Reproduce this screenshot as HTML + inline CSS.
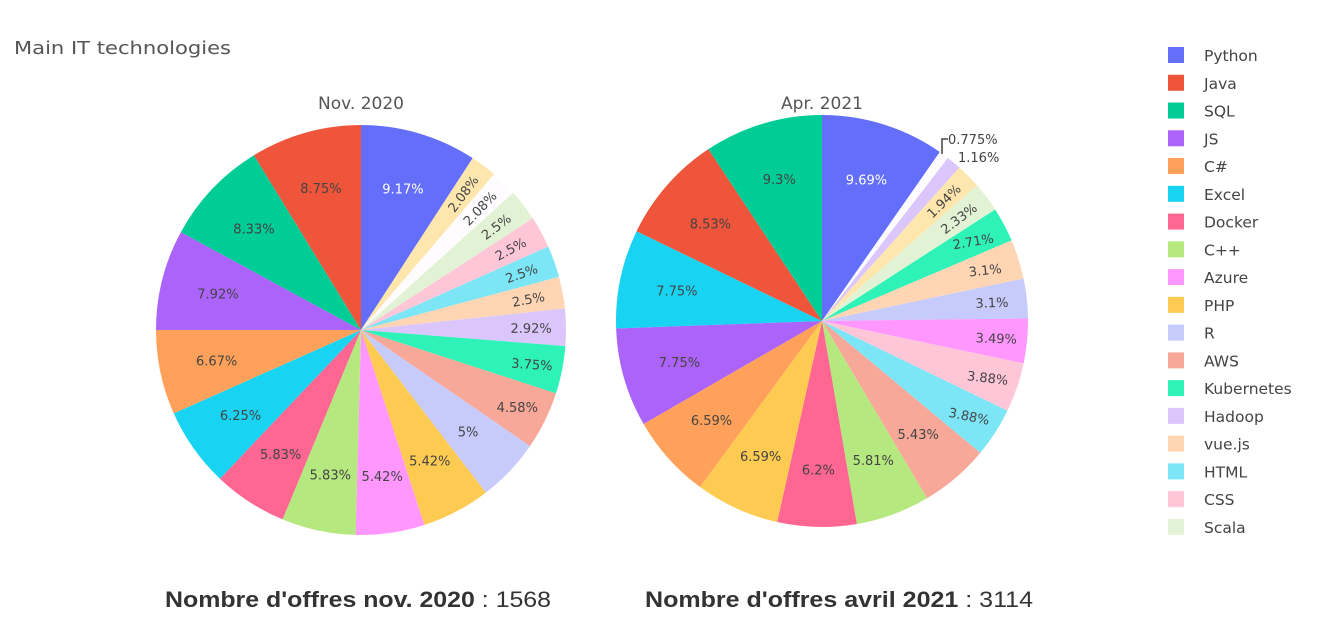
<!DOCTYPE html>
<html><head><meta charset="utf-8"><style>
body{margin:0;background:#fff;width:1317px;height:631px;overflow:hidden;font-family:"DejaVu Sans",sans-serif}
</style></head><body>
<svg id="s" width="1317" height="631" xmlns="http://www.w3.org/2000/svg" font-family="DejaVu Sans, sans-serif">
<text x="14" y="54" font-size="18" fill="#555" textLength="217" lengthAdjust="spacingAndGlyphs">Main IT technologies</text>
<text x="361" y="109" font-size="17" fill="#555" text-anchor="middle">Nov. 2020</text>
<text x="822" y="109" font-size="17" fill="#555" text-anchor="middle">Apr. 2021</text>
<text x="165" y="607" font-size="22" fill="#333" font-family="Liberation Sans, sans-serif" textLength="386" lengthAdjust="spacingAndGlyphs"><tspan font-weight="bold">Nombre d'offres nov. 2020</tspan> : 1568</text>
<text x="645" y="607" font-size="22" fill="#333" font-family="Liberation Sans, sans-serif" textLength="388" lengthAdjust="spacingAndGlyphs"><tspan font-weight="bold">Nombre d'offres avril 2021</tspan> : 3114</text>
<g id="g"></g>
</svg>
<script>
var C={py:"#636efa",ja:"#ef553b",sq:"#00cc96",js:"#ab63fa",cs:"#ffa15a",ex:"#19d3f3",do:"#ff6692",cp:"#b6e880",az:"#ff97ff",ph:"#fecb52",r:"#c6cbfb",aw:"#f7a898",ku:"#2ef2b8",ha:"#dac6fb",vu:"#ffd5b4",ht:"#7ce6f7",css:"#ffc6d8",sc:"#e2f3d5",ly:"#fee6ad",wh:"#fefcff"};
var p1=[[9.17,"py"],[2.08,"ly"],[2.08,"wh"],[2.5,"sc"],[2.5,"css"],[2.5,"ht"],[2.5,"vu"],[2.92,"ha"],[3.75,"ku"],[4.58,"aw"],[5,"r"],[5.42,"ph"],[5.42,"az"],[5.83,"cp"],[5.83,"do"],[6.25,"ex"],[6.67,"cs"],[7.92,"js"],[8.33,"sq"],[8.75,"ja"]];
var p2=[[9.69,"py"],[0.775,"wh"],[1.16,"ha"],[1.94,"ly"],[2.33,"sc"],[2.71,"ku"],[3.1,"vu"],[3.1,"r"],[3.49,"az"],[3.88,"css"],[3.88,"ht"],[5.43,"aw"],[5.81,"cp"],[6.2,"do"],[6.59,"ph"],[6.59,"cs"],[7.75,"js"],[7.75,"ex"],[8.53,"ja"],[9.3,"sq"]];
var g=document.getElementById("g"),h="";
function pie(d,cx,cy,r){var tot=0;d.forEach(function(x){tot+=x[0]});var a=0;
d.forEach(function(x){var a0=a/tot*2*Math.PI,a1=(a+x[0])/tot*2*Math.PI;a+=x[0];
var x0=cx+r*Math.sin(a0),y0=cy-r*Math.cos(a0),x1=cx+r*Math.sin(a1),y1=cy-r*Math.cos(a1);
h+='<path d="M'+cx+','+cy+'L'+x0+','+y0+'A'+r+','+r+' 0 0 1 '+x1+','+y1+'Z" fill="'+C[x[1]]+'"/>';
var am=(a0+a1)/2,lab=x[0]+"%",col=x[1]=="py"?"#fff":"#444";
if(x[0]<1.5){return;}
var rr=x[0]<3.2?0.83:(x[0]<5?0.85:0.72);
var tx=cx+rr*r*Math.sin(am),ty=cy-rr*r*Math.cos(am);
var rot=0;if(x[0]<2.6){rot=am*180/Math.PI-90;if(rot>90)rot-=180;if(rot<-90)rot+=180;}
else if(x[0]<4){rot=(am*180/Math.PI-90)*0.35;}
h+='<text x="'+tx+'" y="'+(ty+5)+'" font-size="13" fill="'+col+'" text-anchor="middle" transform="rotate('+rot+' '+tx+' '+ty+')">'+lab+'</text>';
});}
pie(p1,361,330,205);pie(p2,822,321,206);
h+='<path d="M942,154 L942,139 L948,139" stroke="#444" fill="none" stroke-width="1.5"/>';
h+='<text x="948" y="144" font-size="13" fill="#444">0.775%</text><text x="958" y="162" font-size="13" fill="#444">1.16%</text>';
var L=[["Python","py"],["Java","ja"],["SQL","sq"],["JS","js"],["C#","cs"],["Excel","ex"],["Docker","do"],["C++","cp"],["Azure","az"],["PHP","ph"],["R","r"],["AWS","aw"],["Kubernetes","ku"],["Hadoop","ha"],["vue.js","vu"],["HTML","ht"],["CSS","css"],["Scala","sc"]];
L.forEach(function(l,i){var y=55+i*27.76;h+='<rect x="1168" y="'+(y-8)+'" width="16" height="16" fill="'+C[l[1]]+'"/><text x="1204" y="'+(y+6)+'" font-size="15.5" fill="#444">'+l[0]+'</text>';});
g.innerHTML=h;
</script>
</body></html>
